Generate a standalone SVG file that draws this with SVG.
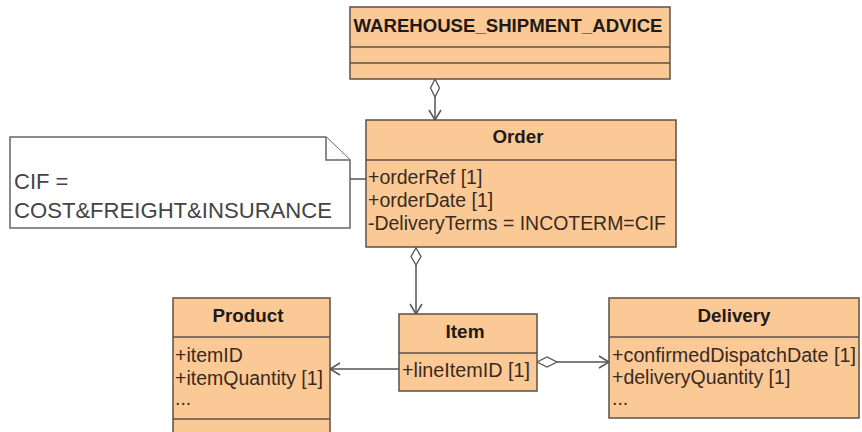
<svg xmlns="http://www.w3.org/2000/svg" width="862" height="432" viewBox="0 0 862 432">
  <style>
    .cls { fill: #fbc996; stroke: #5e5046; stroke-width: 1.5; }
    .div { stroke: #5e5046; stroke-width: 1.5; fill: none; }
    .title { font-family: "Liberation Sans", Arial, sans-serif; font-weight: bold; font-size: 19px; fill: #1e1a16; text-anchor: middle; }
    .attr { font-family: "Liberation Sans", Arial, sans-serif; font-size: 19.5px; fill: #3a2a1e; }
    .note { fill: #ffffff; stroke: #666666; stroke-width: 1.5; }
    .notetext { font-family: "Liberation Sans", Arial, sans-serif; font-size: 22px; fill: #444444; }
    .edge { stroke: #555555; stroke-width: 1.5; fill: none; }
    .dia { fill: #ffffff; stroke: #555555; stroke-width: 1.3; }
  </style>
  <defs>
    <marker id="open" viewBox="0 0 12 14" refX="11" refY="7" markerWidth="12" markerHeight="14" markerUnits="userSpaceOnUse" orient="auto">
      <path d="M1,1 L11,7 L1,13" fill="none" stroke="#555555" stroke-width="1.5"/>
    </marker>
  </defs>

  <!-- connectors -->
  <g id="connectors">
    <line class="edge" x1="435" y1="97" x2="435" y2="120" marker-end="url(#open)"/>
    <polygon class="dia" points="435,79 439.5,88 435,97 430.5,88"/>
    <line class="edge" x1="416" y1="265" x2="416" y2="314" marker-end="url(#open)"/>
    <polygon class="dia" points="416,248 421,256.5 416,265 411,256.5"/>
    <line class="edge" x1="399" y1="369" x2="330" y2="369" marker-end="url(#open)"/>
    <line class="edge" x1="557" y1="362" x2="609" y2="362" marker-end="url(#open)"/>
    <polygon class="dia" points="537,362 547,357 557,362 547,367"/>
    <line class="edge" x1="350" y1="179" x2="366" y2="179"/>
  </g>

  <!-- note -->
  <g id="note-cif">
    <path class="note" d="M10,137 L326,137 L350,160 L350,228 L10,228 Z"/>
    <path class="note" d="M326,137 L326,160 L350,160"/>
    <text class="notetext" x="14" y="189">CIF =</text>
    <text class="notetext" x="14" y="218" textLength="318" lengthAdjust="spacingAndGlyphs">COST&amp;FREIGHT&amp;INSURANCE</text>
  </g>

  <!-- WAREHOUSE_SHIPMENT_ADVICE -->
  <g id="warehouse-shipment-advice">
    <rect class="cls" x="350" y="7" width="320" height="72"/>
    <line class="div" x1="350" y1="47" x2="670" y2="47"/>
    <line class="div" x1="350" y1="63" x2="670" y2="63"/>
    <text class="title" x="508" y="32" textLength="309" lengthAdjust="spacingAndGlyphs">WAREHOUSE_SHIPMENT_ADVICE</text>
  </g>

  <!-- Order -->
  <g id="order">
    <rect class="cls" x="366" y="120" width="310" height="127"/>
    <line class="div" x1="366" y1="160" x2="676" y2="160"/>
    <text class="title" x="518" y="143" textLength="51" lengthAdjust="spacingAndGlyphs">Order</text>
    <text class="attr" x="368" y="184">+orderRef [1]</text>
    <text class="attr" x="368" y="207">+orderDate [1]</text>
    <text class="attr" x="368" y="230" textLength="298" lengthAdjust="spacingAndGlyphs">-DeliveryTerms = INCOTERM=CIF</text>
  </g>

  <!-- Product -->
  <g id="product">
    <rect class="cls" x="173" y="298" width="157" height="140"/>
    <line class="div" x1="173" y1="337" x2="330" y2="337"/>
    <line class="div" x1="173" y1="419" x2="330" y2="419"/>
    <text class="title" x="248" y="322" textLength="71" lengthAdjust="spacingAndGlyphs">Product</text>
    <text class="attr" x="175" y="362">+itemID</text>
    <text class="attr" x="175" y="385" textLength="148" lengthAdjust="spacingAndGlyphs">+itemQuantity [1]</text>
    <text class="attr" x="175" y="405">...</text>
  </g>

  <!-- Item -->
  <g id="item">
    <rect class="cls" x="399" y="314" width="138" height="77"/>
    <line class="div" x1="399" y1="353" x2="537" y2="353"/>
    <text class="title" x="465" y="338" textLength="39" lengthAdjust="spacingAndGlyphs">Item</text>
    <text class="attr" x="402" y="377" textLength="128" lengthAdjust="spacingAndGlyphs">+lineItemID [1]</text>
  </g>

  <!-- Delivery -->
  <g id="delivery">
    <rect class="cls" x="609" y="298" width="250" height="120"/>
    <line class="div" x1="609" y1="337" x2="859" y2="337"/>
    <text class="title" x="734" y="322" textLength="73" lengthAdjust="spacingAndGlyphs">Delivery</text>
    <text class="attr" x="612" y="362" textLength="244" lengthAdjust="spacingAndGlyphs">+confirmedDispatchDate [1]</text>
    <text class="attr" x="612" y="384">+deliveryQuantity [1]</text>
    <text class="attr" x="612" y="405">...</text>
  </g>
</svg>
